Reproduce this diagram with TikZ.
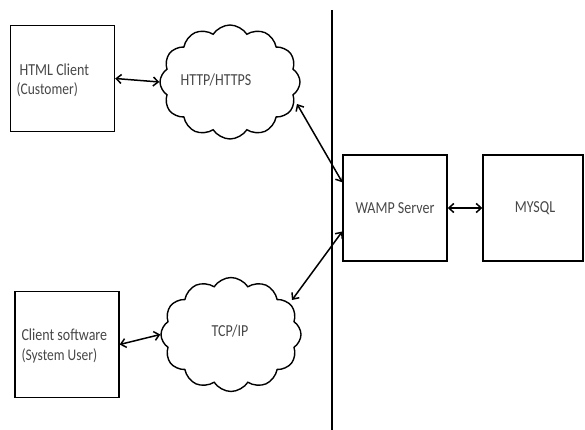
\documentclass[tikz,border=0pt]{standalone}
\usepackage{fontspec}
\setmainfont{Carlito}
\usetikzlibrary{shapes.symbols,arrows.meta}
\tikzset{
	unit/.style={draw=black, line width=1.4pt, minimum width=104pt, minimum height=106pt, inner sep=0pt},
	net/.style={cloud, draw=black, line width=1.4pt, cloud puffs=12, cloud puff arc=115, aspect=1.25, minimum width=140pt, minimum height=114pt, inner sep=0pt},
	lbl/.style={yscale=1.2, transform shape, text=black!72},
	link/.style={{Straight Barb[length=5pt,width=9pt]}-{Straight Barb[length=5pt,width=9pt]}, line width=1.5pt}
}

\begin{document}
\begin{tikzpicture}[x=1pt, y=-1pt, font=\fontsize{14}{16}\selectfont]
			\useasboundingbox (0, 0) rectangle (585, 430);
			\node[unit] (html) at (62.5, 78.5) {};
			\node[lbl, align=left, anchor=west] (htmltext) at (13, 80) {\ HTML Client\\{\fontsize{13.5}{15}\selectfont(Customer)}};
			\node[net] (http) at (230, 82) {};
			\node[lbl] (httptext) at (216, 80) {HTTP/HTTPS};
			\node[unit] (client) at (67, 344.5) {};
			\node[lbl, align=left, anchor=west] (clienttext) at (18, 346) {Client software\\{\fontsize{13.5}{15}\selectfont(System User)}};
			\node[net] (tcp) at (231, 334.5) {};
			\node[lbl] (tcptext) at (230, 331) {TCP/IP};
			\node[unit] (wamp) at (395, 208) {};
			\node[lbl] (wamptext) at (395, 208) {WAMP Server};
			\node[unit, minimum width=100pt] (mysql) at (533, 208) {};
			\node[lbl] (mysqltext) at (535, 208) {MYSQL};
			\coordinate (top) at (332, 10);
			\coordinate (bottom) at (332, 430);
			\coordinate (httpend) at (297, 104);
			\coordinate (tcpend) at (292, 300);
			\draw[line width=1.4pt] (top) -- (bottom);
			\draw[link] (html.east) -- (http.west);
			\draw[link] (client.east) -- (tcp.west);
			\draw[link] (httpend) -- (wamp.154);
			\draw[link] (tcpend) -- (wamp.204);
			\draw[link] (wamp.east) -- (mysql.west);
		\end{tikzpicture}
\end{document}
